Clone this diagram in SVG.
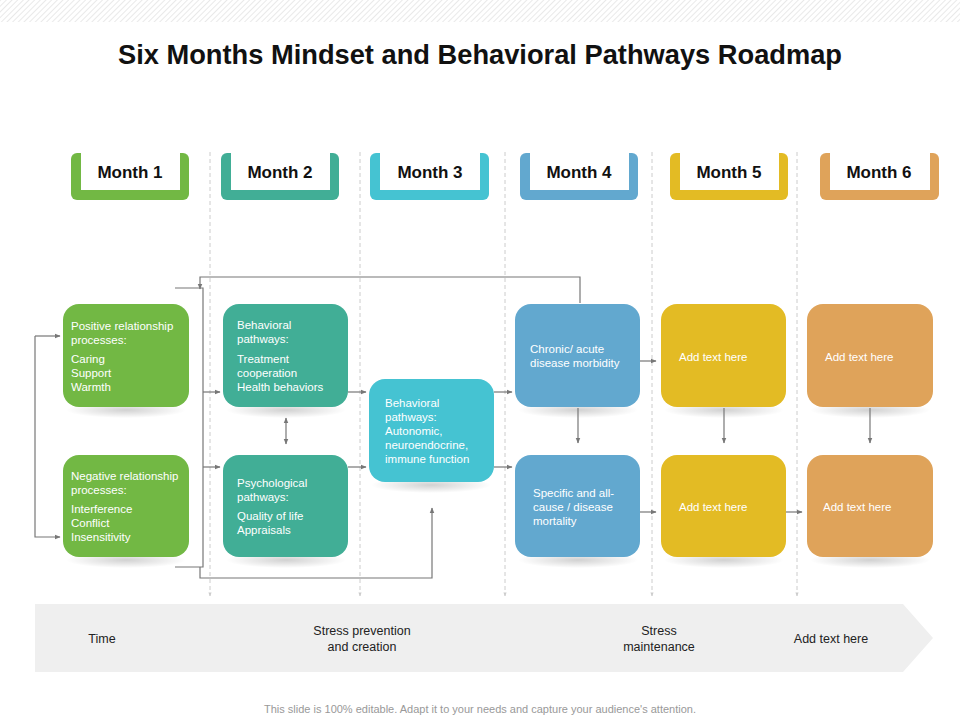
<svg xmlns="http://www.w3.org/2000/svg" width="960" height="720" viewBox="0 0 960 720">
<defs>
<pattern id="hatch" width="4" height="4" patternUnits="userSpaceOnUse" patternTransform="rotate(45)"><rect width="4" height="4" fill="#fff"/><line x1="0" y1="0" x2="0" y2="4" stroke="#e2e2e2" stroke-width="1.5"/></pattern>
<marker id="ah" viewBox="0 0 10 10" refX="9" refY="5" markerWidth="5" markerHeight="5" orient="auto-start-reverse"><path d="M0,1 L10,5 L0,9 z" fill="#777"/></marker>
<marker id="ahs" viewBox="0 0 10 10" refX="9" refY="5" markerWidth="4" markerHeight="4" orient="auto"><path d="M0,1 L10,5 L0,9 z" fill="#ccc"/></marker>
<radialGradient id="sh" cx="0.5" cy="0.5" r="0.5"><stop offset="0" stop-color="#000" stop-opacity="0.18"/><stop offset="1" stop-color="#000" stop-opacity="0"/></radialGradient>
</defs>
<style>
.tab{stroke:none}.tabin{fill:#fff}
.tabt{font-family:"Liberation Sans",Arial,sans-serif;font-weight:bold;font-size:17px;fill:#111;text-anchor:middle}
.bt{font-family:"Liberation Sans",Arial,sans-serif;font-size:11.5px;fill:#fff}
.c{stroke:#777;stroke-width:1.2;fill:none}
.ca{stroke:#777;stroke-width:1.2;fill:none;marker-end:url(#ah)}
.dash{stroke:#ccc;stroke-width:1;stroke-dasharray:4 3;marker-end:url(#ahs)}
.bot{font-family:"Liberation Sans",Arial,sans-serif;font-size:12.5px;fill:#222;text-anchor:middle}
</style>
<rect width="960" height="720" fill="#fff"/>
<rect width="960" height="22" fill="url(#hatch)"/>
<text x="480" y="64" font-family="Liberation Sans,Arial,sans-serif" font-weight="bold" font-size="28" fill="#111" text-anchor="middle" textLength="724" lengthAdjust="spacingAndGlyphs">Six Months Mindset and Behavioral Pathways Roadmap</text>

<g id="dashes">
<line class="dash" x1="210" y1="152" x2="210" y2="596"/>
<line class="dash" x1="360" y1="152" x2="360" y2="596"/>
<line class="dash" x1="505" y1="152" x2="505" y2="596"/>
<line class="dash" x1="652" y1="152" x2="652" y2="596"/>
<line class="dash" x1="797" y1="152" x2="797" y2="596"/>
</g>

<g id="tab1"><rect class="tab" x="71" y="153" width="118" height="47" rx="6" fill="#72b844"/><rect class="tabin" x="81" y="153" width="99" height="37"/><text class="tabt" x="130" y="178">Month 1</text></g>
<g id="tab2"><rect class="tab" x="221" y="153" width="118" height="47" rx="6" fill="#41ae96"/><rect class="tabin" x="231" y="153" width="99" height="37"/><text class="tabt" x="280" y="178">Month 2</text></g>
<g id="tab3"><rect class="tab" x="370" y="153" width="119" height="47" rx="6" fill="#45c3d2"/><rect class="tabin" x="380" y="153" width="100" height="37"/><text class="tabt" x="430" y="178">Month 3</text></g>
<g id="tab4"><rect class="tab" x="520" y="153" width="118" height="47" rx="6" fill="#62a8cf"/><rect class="tabin" x="530" y="153" width="99" height="37"/><text class="tabt" x="579" y="178">Month 4</text></g>
<g id="tab5"><rect class="tab" x="670" y="153" width="118" height="47" rx="6" fill="#e3bb24"/><rect class="tabin" x="680" y="153" width="99" height="37"/><text class="tabt" x="729" y="178">Month 5</text></g>
<g id="tab6"><rect class="tab" x="820" y="153" width="119" height="47" rx="6" fill="#dfa35a"/><rect class="tabin" x="830" y="153" width="100" height="37"/><text class="tabt" x="879" y="178">Month 6</text></g>

<g id="shadows">
<ellipse cx="126" cy="410" rx="60" ry="8" fill="url(#sh)"/><ellipse cx="126" cy="560" rx="60" ry="8" fill="url(#sh)"/>
<ellipse cx="286" cy="410" rx="60" ry="8" fill="url(#sh)"/><ellipse cx="286" cy="560" rx="60" ry="8" fill="url(#sh)"/>
<ellipse cx="431" cy="485" rx="60" ry="8" fill="url(#sh)"/>
<ellipse cx="578" cy="410" rx="60" ry="8" fill="url(#sh)"/><ellipse cx="578" cy="560" rx="60" ry="8" fill="url(#sh)"/>
<ellipse cx="724" cy="410" rx="60" ry="8" fill="url(#sh)"/><ellipse cx="724" cy="560" rx="60" ry="8" fill="url(#sh)"/>
<ellipse cx="870" cy="410" rx="60" ry="8" fill="url(#sh)"/><ellipse cx="870" cy="560" rx="60" ry="8" fill="url(#sh)"/>
</g>

<g id="connectors">
<path class="ca" d="M35,336 L35,537 L60,537"/><path class="ca" d="M35,336 L60,336"/>
<path class="c" d="M175,288 L203,288 L203,567 L175,567"/>
<path class="ca" d="M203,392 L220,392"/><path class="ca" d="M203,467 L220,467"/>
<path class="ca" d="M580,303 L580,277 L200,277 L200,289"/>
<path class="ca" d="M200,567 L200,578 L432,578 L432,508"/>
<path class="ca" d="M348,392 L366,392"/><path class="ca" d="M348,467 L366,467"/>
<path class="ca" d="M494,392 L512,392"/><path class="ca" d="M494,467 L512,467"/>
<path class="ca" d="M640,361 L656,361"/><path class="ca" d="M640,512 L656,512"/><path class="ca" d="M786,512 L802,512"/>
<path class="ca" d="M578,408 L578,443"/><path class="ca" d="M724,408 L724,443"/><path class="ca" d="M870,408 L870,443"/>
<path class="ca" style="marker-start:url(#ah)" d="M286,418 L286,444"/>
<path class="ca" d="M183,638 L240,638"/><path class="ca" d="M487,638 L544,638"/>
</g>

<g id="n1"><rect x="63" y="304" width="126" height="103" rx="16" fill="#72b844"/><text class="bt"><tspan x="71" y="330">Positive relationship</tspan><tspan x="71" y="344">processes:</tspan><tspan x="71" y="363">Caring</tspan><tspan x="71" y="377">Support</tspan><tspan x="71" y="391">Warmth</tspan></text></g>
<g id="n2"><rect x="63" y="455" width="126" height="102" rx="16" fill="#72b844"/><text class="bt"><tspan x="71" y="480">Negative relationship</tspan><tspan x="71" y="494">processes:</tspan><tspan x="71" y="513">Interference</tspan><tspan x="71" y="527">Conflict</tspan><tspan x="71" y="541">Insensitivity</tspan></text></g>
<g id="n3"><rect x="223" y="304" width="125" height="103" rx="16" fill="#41ae96"/><text class="bt"><tspan x="237" y="329">Behavioral</tspan><tspan x="237" y="343">pathways:</tspan><tspan x="237" y="363">Treatment</tspan><tspan x="237" y="377">cooperation</tspan><tspan x="237" y="391">Health behaviors</tspan></text></g>
<g id="n4"><rect x="223" y="455" width="125" height="102" rx="16" fill="#41ae96"/><text class="bt"><tspan x="237" y="487">Psychological</tspan><tspan x="237" y="501">pathways:</tspan><tspan x="237" y="520">Quality of life</tspan><tspan x="237" y="534">Appraisals</tspan></text></g>
<g id="n5"><rect x="369" y="379" width="125" height="103" rx="16" fill="#45c3d2"/><text class="bt"><tspan x="385" y="407">Behavioral</tspan><tspan x="385" y="421">pathways:</tspan><tspan x="385" y="435">Autonomic,</tspan><tspan x="385" y="449">neuroendocrine,</tspan><tspan x="385" y="463">immune function</tspan></text></g>
<g id="n6"><rect x="515" y="304" width="125" height="103" rx="16" fill="#62a8cf"/><text class="bt"><tspan x="530" y="353">Chronic/ acute</tspan><tspan x="530" y="367">disease morbidity</tspan></text></g>
<g id="n7"><rect x="515" y="455" width="125" height="102" rx="16" fill="#62a8cf"/><text class="bt"><tspan x="533" y="497">Specific and all-</tspan><tspan x="533" y="511">cause / disease</tspan><tspan x="533" y="525">mortality</tspan></text></g>
<g id="n8"><rect x="661" y="304" width="125" height="103" rx="16" fill="#e3bb24"/><text class="bt" x="679" y="361">Add text here</text></g>
<g id="n9"><rect x="661" y="455" width="125" height="102" rx="16" fill="#e3bb24"/><text class="bt" x="679" y="511">Add text here</text></g>
<g id="n10"><rect x="807" y="304" width="126" height="103" rx="16" fill="#dfa35a"/><text class="bt" x="825" y="361">Add text here</text></g>
<g id="n11"><rect x="807" y="455" width="126" height="102" rx="16" fill="#dfa35a"/><text class="bt" x="823" y="511">Add text here</text></g>

<g id="band">
<polygon points="35,604 903,604 933,638 903,672 35,672" fill="#efefef"/>
<text class="bot" x="102" y="643">Time</text>
<text class="bot"><tspan x="362" y="635">Stress prevention</tspan><tspan x="362" y="651">and creation</tspan></text>
<text class="bot"><tspan x="659" y="635">Stress</tspan><tspan x="659" y="651">maintenance</tspan></text>
<text class="bot" x="831" y="643">Add text here</text>
</g>
<text x="480" y="713" font-family="Liberation Sans,Arial,sans-serif" font-size="11" fill="#999" text-anchor="middle">This slide is 100% editable. Adapt it to your needs and capture your audience's attention.</text>
</svg>
